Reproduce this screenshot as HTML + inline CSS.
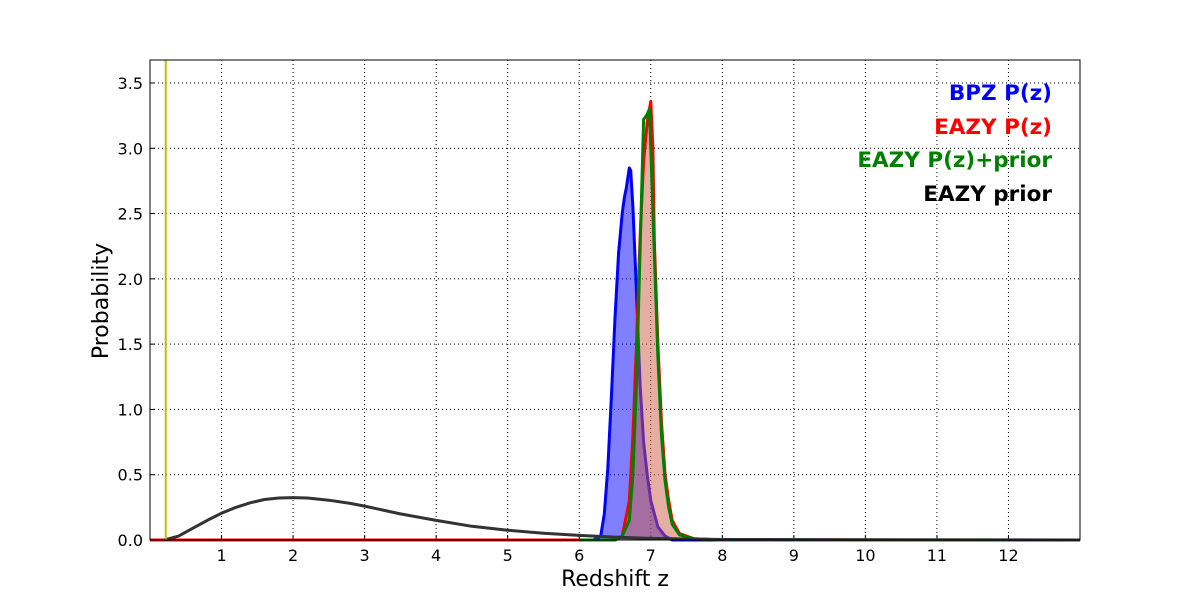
<!DOCTYPE html>
<html><head><meta charset="utf-8"><style>
body{margin:0;background:#fff;}
svg{display:block;font-family:"DejaVu Sans","Liberation Sans",sans-serif;}
</style></head><body>
<svg id="c" width="1200" height="600"></svg>
<script>
const xTicks=[1,2,3,4,5,6,7,8,9,10,11,12];
const yTicks=[0.0,0.5,1.0,1.5,2.0,2.5,3.0,3.5];
const bpzZ=[0,6.2,6.3,6.35,6.4,6.45,6.5,6.55,6.6,6.63,6.66,6.7,6.72,6.75,6.8,6.85,6.9,6.95,7.0,7.1,7.2,7.3,13];
const bpzP=[0,0,0.03,0.2,0.55,1.1,1.7,2.2,2.5,2.62,2.7,2.85,2.83,2.55,1.9,1.2,0.75,0.5,0.3,0.1,0.03,0,0];
const eazyZ=[0,6.5,6.6,6.7,6.75,6.8,6.85,6.9,6.95,7.0,7.03,7.05,7.1,7.15,7.2,7.25,7.3,7.4,7.6,8,12];
const eazyP=[0,0,0.03,0.3,0.8,1.5,2.3,2.9,3.2,3.36,3.0,2.3,1.5,0.9,0.5,0.3,0.15,0.05,0.01,0,0];
const priorPZ=[6.0,6.5,6.6,6.7,6.75,6.8,6.85,6.9,6.95,6.98,7.0,7.05,7.1,7.15,7.2,7.25,7.3,7.4,7.6,8];
const priorPP=[0,0,0.03,0.15,0.5,1.2,2.2,3.22,3.26,3.3,3.0,2.2,1.4,0.8,0.45,0.25,0.12,0.04,0.01,0];
const priorZ=[0.2,0.4,0.6,0.8,1,1.2,1.4,1.6,1.8,2,2.2,2.5,2.8,3,3.5,4,4.5,5,5.5,6,6.5,7,8,13];
const priorP=[0,0.03,0.09,0.15,0.205,0.25,0.285,0.31,0.322,0.325,0.322,0.305,0.28,0.26,0.2,0.15,0.105,0.075,0.052,0.035,0.022,0.012,0.004,0];
const zPhot=[0.22];
const X0=150,X1=1080,Y0=540,Y1=60,ZMAX=13,PMAX=3.676;
const sx=z=>X0+z/ZMAX*(X1-X0), sy=p=>Y0-p/PMAX*(Y0-Y1);
const svg=document.getElementById('c'),NS='http://www.w3.org/2000/svg';
function mk(t,a,parent){const e=document.createElementNS(NS,t);for(const k in a)e.setAttribute(k,a[k]);(parent||svg).appendChild(e);return e;}
xTicks.forEach(t=>{const l=mk('line',{x1:sx(t),x2:sx(t),y1:Y1,y2:Y0,stroke:'#000','stroke-dasharray':'1,3','stroke-width':1});


const tx=mk('text',{x:sx(t),y:Y0+21,'text-anchor':'middle','font-size':16});tx.textContent=t;


mk('line',{x1:sx(t),x2:sx(t),y1:Y0,y2:Y0-5,stroke:'#000'});});
yTicks.forEach(t=>{const l=mk('line',{x1:X0,x2:X1,y1:sy(t),y2:sy(t),stroke:'#000','stroke-dasharray':'1,3','stroke-width':1});


const tx=mk('text',{x:X0-7,y:sy(t)+6,'text-anchor':'end','font-size':16});tx.textContent=t.toFixed(1);


mk('line',{x1:X0,x2:X0+5,y1:sy(t),y2:sy(t),stroke:'#000'});});
function pts(zs,ps){return zs.map((z,i)=>sx(z).toFixed(1)+','+sy(ps[i]).toFixed(1)).join(' ');}
function series(zs,ps,fill,stroke,name){
 if(fill){const f=mk('polygon',{points:pts(zs,ps)+' '+sx(zs[zs.length-1])+','+sy(0)+' '+sx(zs[0])+','+sy(0),fill:fill,stroke:'none'});
 
 }
 const l=mk('polyline',{points:pts(zs,ps),fill:'none',stroke:stroke,'stroke-width':3,'stroke-linejoin':'round'});
 
 }
series(bpzZ,bpzP,'rgba(0,0,255,0.5)','#0000ff','bpz-pz');
series(eazyZ,eazyP,'rgba(205,92,72,0.5)','#ff0000','eazy-pz');
series(priorPZ,priorPP,null,'#007f00','eazy-pz-prior');
series(priorZ,priorP,null,'#333','eazy-prior');
zPhot.forEach(z=>{const l=mk('line',{x1:sx(z),x2:sx(z),y1:Y1,y2:Y0,stroke:'#bfbf00','stroke-width':2});

});
const fr=mk('rect',{x:X0,y:Y1,width:X1-X0,height:Y0-Y1,fill:'none',stroke:'#000','stroke-width':1});


const leg=[['BPZ P(z)','#0000ff',100],['EAZY P(z)','#ff0000',134],['EAZY P(z)+prior','#007f00',167],['EAZY prior','#000',201]];
leg.forEach(([t,c,y])=>{const e=mk('text',{x:1052,y:y,'text-anchor':'end','font-size':21.5,'font-weight':'bold',fill:c});e.textContent=t;

});
const xl=mk('text',{x:615,y:586,'text-anchor':'middle','font-size':22});xl.textContent='Redshift z';


const yl=mk('text',{x:108,y:301,'text-anchor':'middle','font-size':22,transform:'rotate(-90 108 301)'});yl.textContent='Probability';


</script>
</body></html>
